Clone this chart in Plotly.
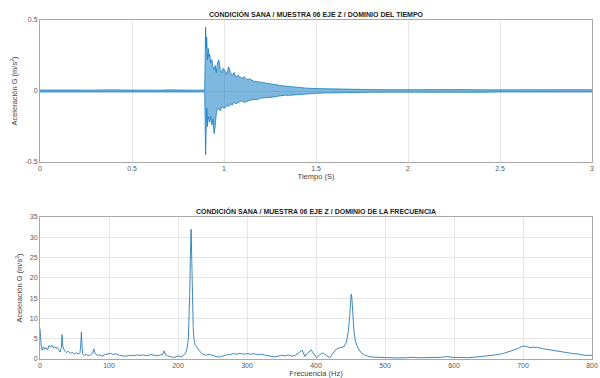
import plotly.graph_objects as go

# ---------------- Time-domain envelope ----------------
t_env = [0.00, 0.05, 0.10, 0.15, 0.20, 0.25, 0.30, 0.35, 0.40, 0.45, 0.50, 0.55,
         0.60, 0.65, 0.70, 0.75, 0.80, 0.85, 0.895,
         0.900, 0.903, 0.906, 0.910, 0.914, 0.918, 0.922, 0.928, 0.934, 0.940,
         0.946, 0.952, 0.958, 0.965, 0.972, 0.980, 0.988, 0.996, 1.005, 1.015,
         1.025, 1.035, 1.045, 1.055, 1.065, 1.080, 1.095, 1.110, 1.125, 1.140,
         1.160, 1.180, 1.200, 1.225, 1.250, 1.275, 1.300, 1.330, 1.360, 1.400,
         1.450, 1.500, 1.550, 1.600, 1.700, 1.800, 1.900, 2.000, 2.100, 2.200,
         2.300, 2.400, 2.500, 2.600, 2.700, 2.800, 2.900, 3.000]
upper_env = [0.007, 0.008, 0.006, 0.009, 0.007, 0.006, 0.008, 0.006, 0.009, 0.007, 0.006, 0.008,
             0.007, 0.006, 0.008, 0.006, 0.007, 0.006, 0.007,
             0.450, 0.300, 0.380, 0.220, 0.300, 0.240, 0.260, 0.200, 0.220, 0.170,
             0.150, 0.180, 0.130, 0.200, 0.220, 0.150, 0.130, 0.160, 0.140, 0.120,
             0.170, 0.130, 0.110, 0.130, 0.100, 0.110, 0.090, 0.100, 0.080, 0.085,
             0.070, 0.065, 0.060, 0.055, 0.050, 0.045, 0.040, 0.035, 0.030, 0.025,
             0.020, 0.017, 0.015, 0.013, 0.011, 0.010, 0.009, 0.010, 0.008, 0.009,
             0.010, 0.008, 0.009, 0.010, 0.009, 0.008, 0.010, 0.009]
lower_env = [-0.007, -0.007, -0.008, -0.006, -0.008, -0.007, -0.007, -0.009, -0.006, -0.007, -0.008, -0.006,
             -0.007, -0.008, -0.006, -0.007, -0.006, -0.007, -0.007,
             -0.450, -0.200, -0.120, -0.250, -0.180, -0.200, -0.220, -0.180, -0.240, -0.200,
             -0.300, -0.250, -0.160, -0.120, -0.130, -0.140, -0.110, -0.120, -0.120, -0.100,
             -0.110, -0.090, -0.100, -0.080, -0.090, -0.080, -0.070, -0.080, -0.070, -0.065,
             -0.060, -0.060, -0.050, -0.050, -0.045, -0.040, -0.035, -0.030, -0.030, -0.025,
             -0.018, -0.016, -0.014, -0.012, -0.010, -0.009, -0.008, -0.009, -0.008, -0.007,
             -0.008, -0.009, -0.007, -0.008, -0.009, -0.007, -0.008, -0.007]

# ---------------- Frequency-domain spectrum ----------------
freq = [0, 1, 2, 3, 5, 7, 9, 11, 13, 15, 17, 19, 21, 23, 25, 27, 29, 31, 32, 33,
        35, 38, 41, 44, 47, 50, 53, 56, 58, 59, 60, 61, 62, 64, 67, 70, 73, 76, 78, 80,
        83, 86, 90, 94, 98, 102, 106, 110, 115, 120, 125, 130, 135, 140, 145, 150, 155,
        160, 165, 170, 175, 178, 180, 182, 185, 190, 195, 200, 204, 208, 211, 213, 215,
        216, 217, 218, 219, 220, 221, 222, 223, 225, 227, 230, 235, 240, 245, 250, 255,
        260, 265, 270, 275, 280, 285, 290, 295, 300, 305, 310, 315, 320, 325, 330, 335,
        340, 345, 350, 355, 360, 365, 370, 375, 380, 384, 388, 393, 397, 401, 405, 410,
        415, 420, 425, 430, 435, 440, 444, 447, 449, 450, 451, 452, 453, 455, 457, 460,
        465, 470, 475, 480, 490, 500, 510, 520, 530, 540, 550, 560, 570, 580, 590, 600,
        610, 620, 630, 640, 650, 660, 670, 680, 690, 695, 700, 705, 710, 715, 720, 730,
        740, 750, 760, 770, 780, 790, 800]
amp = [7.5, 4.5, 2.6, 2.2, 3.0, 2.4, 2.8, 2.2, 3.3, 2.9, 3.4, 2.8, 3.1, 2.6, 2.9, 2.3, 1.7, 2.8, 6.0, 3.2,
       2.2, 1.6, 1.9, 1.4, 1.6, 1.3, 1.5, 1.2, 1.6, 3.5, 6.6, 3.0, 1.2, 0.9, 1.1, 0.8, 1.0, 1.4, 2.5, 1.3,
       0.9, 1.0, 0.7, 1.1, 1.2, 1.4, 1.1, 1.3, 0.9, 0.8, 0.7, 0.9, 0.8, 1.0, 0.9, 1.0, 0.8,
       1.1, 0.9, 0.8, 1.0, 1.2, 2.0, 1.0, 0.8, 0.5, 0.4, 0.8, 0.5, 0.9, 1.5, 2.5, 5.0,
       9.0, 16.0, 26.0, 32.0, 24.0, 14.0, 8.0, 5.0, 3.5, 3.0, 2.2, 1.3, 0.9, 1.2, 0.9, 0.6,
       0.5, 0.8, 1.0, 1.1, 1.3, 1.2, 1.4, 1.2, 1.3, 1.2, 1.3, 1.1, 1.2, 1.0, 0.8, 0.6,
       0.5, 0.7, 0.9, 0.8, 1.0, 0.7, 0.9, 1.5, 2.2, 0.6, 1.5, 2.2, 1.2, 0.3, 1.0, 1.5,
       0.9, 0.3, 1.5, 2.5, 2.8, 3.0, 4.0, 7.0, 11.0, 14.0, 16.0, 15.0, 12.0, 7.0, 4.5, 3.0,
       1.6, 1.0, 0.7, 0.5, 0.4, 0.3, 0.35, 0.25, 0.3, 0.4, 0.3, 0.35, 0.3, 0.4, 0.6, 0.35,
       0.4, 0.3, 0.45, 0.6, 0.8, 1.0, 1.3, 1.8, 2.4, 2.8, 3.2, 3.1, 2.8, 2.9, 2.9, 2.5,
       2.2, 1.9, 1.7, 1.4, 1.2, 0.9, 0.9]

x_ticks_time = [0, 0.5, 1, 1.5, 2, 2.5, 3]
y_ticks_time = [-0.5, 0, 0.5]
x_ticks_freq = [0, 100, 200, 300, 400, 500, 600, 700, 800]
y_ticks_freq = [0, 5, 10, 15, 20, 25, 30, 35]

title_time = "CONDICIÓN SANA / MUESTRA 06 EJE Z / DOMINIO DEL TIEMPO"
title_freq = "CONDICIÓN SANA / MUESTRA 06 EJE Z / DOMINIO DE LA FRECUENCIA"
ylab = "Aceleración G (m/s<sup>2</sup>)"

BLUE = "#0072BD"
W, H = 600, 378
xl, xr = 40 / W, 592 / W
top_dom = [1 - 162 / H, 1 - 20 / H]
bot_dom = [1 - 359 / H, 1 - 217 / H]

fig = go.Figure()
fig.add_trace(go.Scatter(x=t_env, y=lower_env, mode="lines",
                         line=dict(color=BLUE, width=0.7), xaxis="x", yaxis="y",
                         showlegend=False, hoverinfo="skip"))
fig.add_trace(go.Scatter(x=t_env, y=upper_env, mode="lines", fill="tonexty",
                         fillcolor="rgba(0,114,189,0.5)",
                         line=dict(color=BLUE, width=0.7), xaxis="x", yaxis="y",
                         showlegend=False))
fig.add_trace(go.Scatter(x=freq, y=amp, mode="lines",
                         line=dict(color="#2a7ab8", width=0.9), xaxis="x2", yaxis="y2",
                         showlegend=False))

tickfont = dict(family="Liberation Sans, Arial, sans-serif", size=7, color="#5a5a5a")
axcommon = dict(showgrid=True, gridcolor="#e6e6e6", gridwidth=1, zeroline=False,
                showline=True, linecolor="#a8a8a8", linewidth=1, mirror=True,
                ticks="", tickfont=tickfont, automargin=False)

fig.update_layout(
    width=W, height=H, margin=dict(l=0, r=0, t=0, b=0),
    paper_bgcolor="white", plot_bgcolor="white",
    font=dict(family="Liberation Sans, Arial, sans-serif"),
    xaxis=dict(domain=[xl, xr], range=[0, 3], tickvals=x_ticks_time,
               ticktext=["0", "0.5", "1", "1.5", "2", "2.5", "3"], anchor="y",
               title=dict(text="Tiempo (S)", font=dict(size=7.5, color="#444444"), standoff=2),
               **axcommon),
    yaxis=dict(domain=top_dom, range=[-0.5, 0.5], tickvals=y_ticks_time,
               ticktext=["-0.5", "0", "0.5"], anchor="x",
               title=dict(text=ylab, font=dict(size=7.5, color="#444444"), standoff=6),
               **axcommon),
    xaxis2=dict(domain=[xl, xr], range=[0, 800], tickvals=x_ticks_freq, anchor="y2",
                title=dict(text="Frecuencia (Hz)", font=dict(size=7.5, color="#444444"), standoff=4),
                **axcommon),
    yaxis2=dict(domain=bot_dom, range=[0, 35], tickvals=y_ticks_freq, anchor="x2",
                title=dict(text=ylab, font=dict(size=7.5, color="#444444"), standoff=6),
                **axcommon),
    annotations=[
        dict(text="<b>" + title_time + "</b>", x=(xl + xr) / 2, y=1 - 14 / H,
             xref="paper", yref="paper", showarrow=False, xanchor="center", yanchor="middle",
             font=dict(size=7, color="#222222")),
        dict(text="<b>" + title_freq + "</b>", x=(xl + xr) / 2, y=1 - 211 / H,
             xref="paper", yref="paper", showarrow=False, xanchor="center", yanchor="middle",
             font=dict(size=7, color="#222222")),
    ],
)

fig.write_html("out.html")
